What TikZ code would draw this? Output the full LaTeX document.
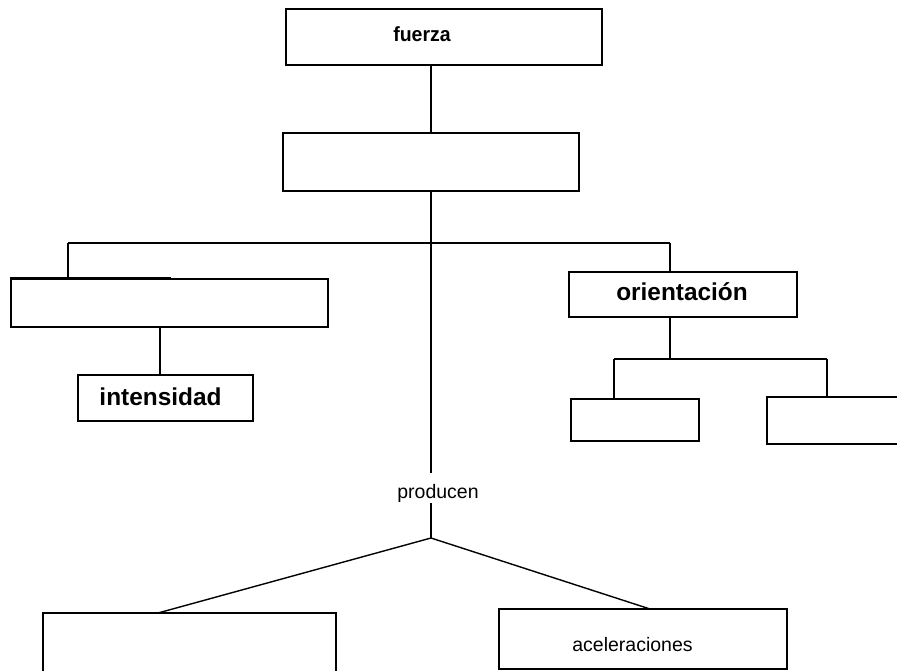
\documentclass[tikz,border=0pt]{standalone}
\usepackage{fontspec}
\setmainfont{Liberation Sans}
\begin{document}
\begin{tikzpicture}[x=1pt,y=-1pt,
  line width=1.4pt,
  box/.style={draw, line width=1.4pt, inner sep=0pt, minimum width=#1},
  big/.style={font=\fontsize{24.4}{28}\selectfont\bfseries, anchor=base, inner sep=0pt},
  title/.style={font=\fontsize{20.5}{24}\selectfont\bfseries, anchor=base, inner sep=0pt},
  plain/.style={font=\fontsize{19.5}{23}\selectfont, anchor=base, inner sep=0pt},
  link/.style={draw, line width=1.4pt}]
\clip (0,0) rectangle (897,671);
\fill[white] (0,0) rectangle (897,671);

% boxes
\node[box=316pt, minimum height=56pt] (fuerza) at (444,37) {};
\node[box=296pt, minimum height=58pt] (second) at (431,162) {};
\node[box=317pt, minimum height=48pt] (leftbox) at (169.5,303) {};
\node[box=175pt, minimum height=46pt] (intens) at (165.5,398) {};
\node[box=228pt, minimum height=45pt] (orient) at (683,294.5) {};
\node[box=128pt, minimum height=42pt] (olow) at (635,420) {};
\node[box=150pt, minimum height=47pt] (orlow) at (842,420.5) {};
\node[box=293pt, minimum height=90pt] (effect) at (189.5,658) {};
\node[box=288pt, minimum height=60pt] (acel) at (643,639) {};

% texts
\node[title] (tfuerza) at (422,42) {\scalebox{0.95}[1]{fuerza}};
\node[big] (tintens) at (160.5,405.5) {intensidad};
\node[big] (torient) at (682,300) {orientación};
\node[plain] (prod) at (438,498) {producen};
\node[plain] (tacel) at (632.5,651) {aceleraciones};

% junction points
\coordinate (hub) at (431,243);
\coordinate (lx) at (68,243);
\coordinate (rx) at (670,243);
\coordinate (ohub) at (670,359);
\coordinate (ol) at (614,359);
\coordinate (or) at (827,359);
\coordinate (apex) at (431,538);
\coordinate (ptop) at (431,473);
\coordinate (pbot) at (431,503);
\coordinate (efftop) at (158,613);
\coordinate (aceltop) at (650,609);

% connectors
\draw[link] (second.north) -- (second.north |- fuerza.south);
\draw[link] (second.south) -- (hub);
\draw[link] (lx) -- (rx);
\draw[link] (lx) -- (lx |- leftbox.north);
\draw[line width=2.4pt] (10,278) -- (171,278);
\draw[link] (leftbox.south -| 160,0) -- (intens.north -| 160,0);
\draw[link] (rx) -- (rx |- orient.north);
\draw[link] (orient.south -| ohub) -- (ohub);
\draw[link] (ol) -- (or);
\draw[link] (ol) -- (ol |- olow.north);
\draw[link] (or) -- (or |- orlow.north);
\draw[link] (hub) -- (ptop);
\draw[link] (pbot) -- (apex);
\draw[link] (apex) -- (efftop);
\draw[link] (apex) -- (aceltop);
\end{tikzpicture}
\end{document}
